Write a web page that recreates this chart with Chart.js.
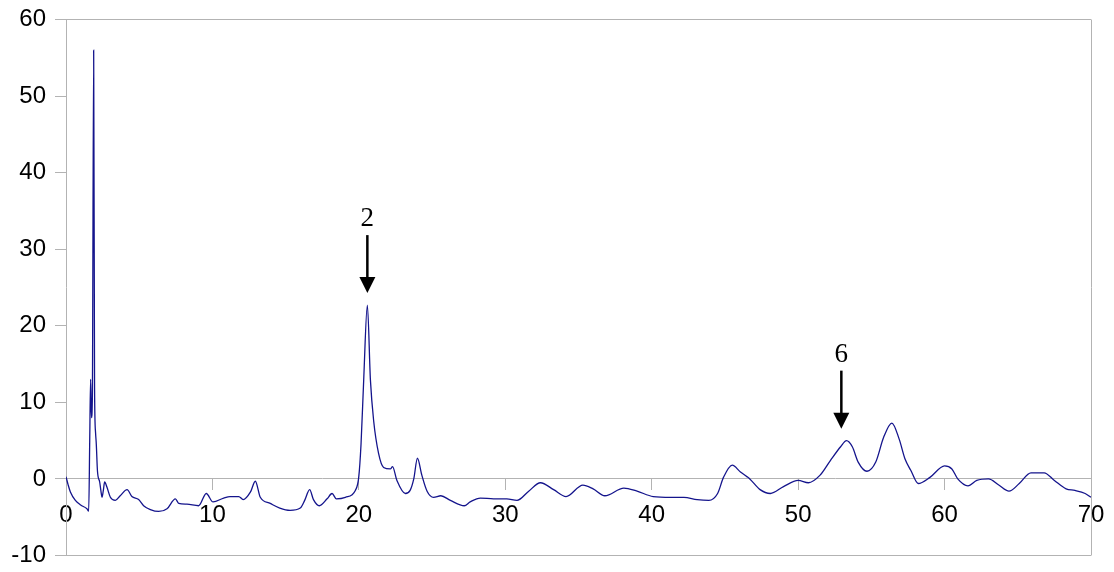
<!DOCTYPE html>
<html>
<head>
<meta charset="utf-8">
<script src="https://cdn.jsdelivr.net/npm/chart.js@4/dist/chart.umd.min.js"></script>
<style>
  body { margin: 0; background: #fff; }
  #wrap { width: 1114px; height: 572px; }
</style>
</head>
<body>
<div id="wrap"><canvas id="spectrum"></canvas></div>
<script>
// Spectrum trace
const xValues = [
  0, 0.15, 0.3, 0.64, 1.0, 1.43, 1.55, 1.62, 1.68, 1.74, 1.8, 1.89, 1.95, 2.02, 2.07, 2.15,
  2.3, 2.38, 2.46, 2.55, 2.64, 2.8, 3.03, 3.37, 3.7, 4.17, 4.5, 4.96, 5.3, 5.76, 6.33, 6.9,
  7.47, 7.7, 8.26, 9.06, 9.58, 10.04, 10.77, 11.2, 11.8, 12.1, 12.6, 12.93, 13.27, 13.95, 14.6, 15.3,
  16.0, 16.3, 16.64, 16.9, 17.3, 17.83, 18.17, 18.46, 19.08, 19.76, 19.99, 20.15, 20.33, 20.58, 20.79, 21.01,
  21.35, 21.69, 22.15, 22.3, 22.6, 23.18, 23.5, 23.75, 24.0, 24.3, 24.66, 25.1, 25.6, 26.25, 27.2, 27.6,
  28.3, 29.2, 30.1, 30.8, 31.6, 32.4, 33.3, 34.15, 35.3, 36.0, 36.8, 38.1, 39.0, 40.1, 41.3, 42.2,
  43.1, 43.9, 44.5, 44.9, 45.5, 46.06, 46.5, 46.7, 47.4, 48.1, 49.0, 50.0, 50.7, 51.5, 52.2, 52.9,
  53.3, 53.7, 54.1, 54.7, 55.3, 55.85, 56.4, 56.9, 57.3, 57.7, 58.2, 59.0, 60.0, 60.5, 60.9, 61.6,
  62.2, 63.0, 63.7, 64.4, 65.1, 65.9, 66.8, 67.5, 68.3, 68.9, 69.6, 70.0
];
const yValues = [
  0.3, -0.8, -1.7, -2.8, -3.4, -3.9, -4.2, 5, 13, 8, 10.5, 56, 12, 6, 4.5, 1,
  -0.4, -1.5, -2.4, -1.5, -0.4, -1.1, -2.4, -2.8, -2.2, -1.4, -2.3, -2.7, -3.5, -4.0, -4.25, -3.9,
  -2.6, -3.2, -3.3, -3.5, -1.9, -3.0, -2.5, -2.3, -2.3, -2.7, -1.7, -0.3, -2.4, -3.2, -3.8, -4.1,
  -3.8, -2.8, -1.4, -2.7, -3.5, -2.6, -1.9, -2.6, -2.4, -1.5, 0.2, 4.6, 12.9, 22.7, 12.9, 7.6,
  3.3, 1.5, 1.3, 1.6, -0.2, -1.9, -1.5, 0, 2.7, 0.5, -1.6, -2.4, -2.2, -2.8, -3.5, -3.0,
  -2.5, -2.6, -2.6, -2.8, -1.6, -0.5, -1.4, -2.3, -0.8, -1.3, -2.2, -1.2, -1.6, -2.3, -2.4, -2.4,
  -2.7, -2.8, -1.9, 0.2, 1.8, 0.9, 0.3, 0, -1.4, -1.9, -1.0, -0.2, -0.5, 0.5, 2.4, 4.2,
  5.0, 4.2, 2.2, 1.0, 2.2, 5.5, 7.3, 5.2, 2.6, 1.1, -0.6, 0.2, 1.7, 1.3, 0, -0.9,
  -0.2, 0, -0.8, -1.6, -0.6, 0.8, 0.8, -0.2, -1.3, -1.5, -1.9, -2.4
];

// Arrow markers: label and the point the arrow points at
const markLabels = ['2', '6'];
const markX = [20.58, 52.95];
const markY = [22.7, 5.0];

const gray = '#b3b3b3';

const points = xValues.map((x, i) => ({ x: x, y: yValues[i] }));

// draws the numbered arrows above the peaks
const arrowPlugin = {
  id: 'arrows',
  afterDatasetsDraw(chart) {
    const ctx = chart.ctx;
    const xs = chart.scales.x;
    const ys = chart.scales.y;
    ctx.save();
    ctx.fillStyle = '#000';
    ctx.strokeStyle = '#000';
    ctx.lineWidth = 2.5;
    markLabels.forEach((label, i) => {
      const px = xs.getPixelForValue(markX[i]);
      const tip = ys.getPixelForValue(markY[i]) - 12;
      const top = tip - 58;
      ctx.beginPath();
      ctx.moveTo(px, top);
      ctx.lineTo(px, tip - 14);
      ctx.stroke();
      ctx.beginPath();
      ctx.moveTo(px - 8, tip - 16);
      ctx.lineTo(px + 8, tip - 16);
      ctx.lineTo(px, tip);
      ctx.closePath();
      ctx.fill();
      ctx.font = '27px "Liberation Serif", "Times New Roman", serif';
      ctx.textAlign = 'center';
      ctx.textBaseline = 'middle';
      ctx.fillText(label, px, top - 16);
    });
    ctx.restore();
  }
};

new Chart(document.getElementById('spectrum'), {
  type: 'line',
  data: {
    datasets: [
      {
        data: points,
        borderColor: '#14148c',
        borderWidth: 1.3,
        pointRadius: 0,
        cubicInterpolationMode: 'monotone',
        fill: false,
      },
    ],
  },
  options: {
    responsive: true,
    maintainAspectRatio: false,
    animation: false,
    layout: {
      autoPadding: false,
      padding: { left: 0, top: 19.5, right: 23, bottom: 16.5 },
    },
    plugins: {
      legend: { display: false },
      tooltip: { enabled: false },
    },
    scales: {
      x: {
        type: 'linear',
        position: { y: 0 },
        min: 0,
        max: 70,
        afterFit: (scale) => {
          scale.paddingLeft = 0;
          scale.paddingRight = 0;
        },
        ticks: {
          stepSize: 10,
          color: '#000',
          padding: 11,
          maxRotation: 0,
          font: { family: '"Liberation Sans", Arial, sans-serif', size: 24 },
        },
        grid: {
          color: (c) => (c.tick && c.tick.value === 70 ? gray : 'rgba(0,0,0,0)'),
          tickColor: gray,
          tickLength: 11,
          lineWidth: 1,
        },
        border: { color: gray, width: 1 },
      },
      y: {
        min: -10,
        max: 60,
        afterFit: (scale) => {
          scale.width = 66;
          scale.paddingTop = 0;
          scale.paddingBottom = 0;
        },
        ticks: {
          stepSize: 10,
          color: '#000',
          padding: 9,
          font: { family: '"Liberation Sans", Arial, sans-serif', size: 24 },
        },
        grid: {
          color: (c) =>
            c.tick && (c.tick.value === 60 || c.tick.value === -10) ? gray : 'rgba(0,0,0,0)',
          tickColor: gray,
          tickLength: 11,
          lineWidth: 1,
        },
        border: { color: gray, width: 1 },
      },
    },
  },
  plugins: [arrowPlugin],
});
</script>
</body>
</html>
